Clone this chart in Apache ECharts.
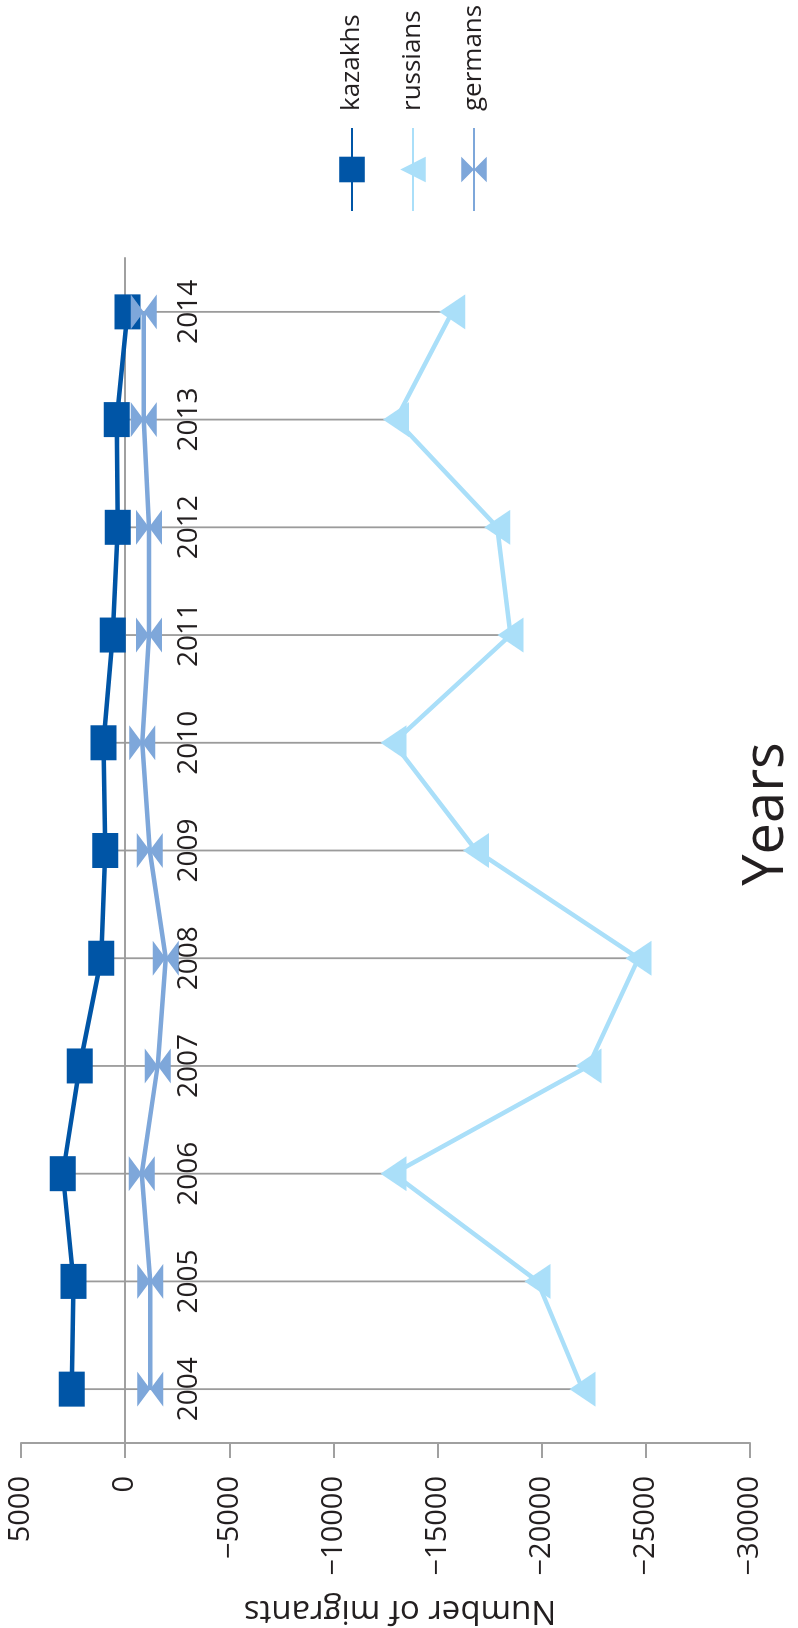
<!DOCTYPE html>
<html>
<head>
<meta charset="utf-8">
<script src="https://cdn.jsdelivr.net/npm/echarts@6/dist/echarts.min.js"></script>
<style>
html, body { margin: 0; padding: 0; width: 798px; height: 1628px; overflow: hidden; background: #fff; }
/* chart is drawn landscape, then turned a quarter to the left */
#chart { position: absolute; left: 0; top: 0; width: 1628px; height: 798px;
  transform-origin: 0 0; transform: translateY(1628px) rotate(-90deg); }
</style>
</head>
<body>
<div id="chart"></div>
<script>
var years = ['2004', '2005', '2006', '2007', '2008', '2009', '2010', '2011', '2012', '2013', '2014'];
var kazakhs = [2560, 2480, 2990, 2180, 1150, 950, 1040, 600, 350, 400, -110];
var russians = [-21960, -19800, -12880, -22250, -24650, -16850, -12880, -18500, -17870, -13000, -15700];
var germans = [-1200, -1200, -800, -1560, -1950, -1180, -820, -1140, -1150, -890, -890];
var valueMin = -30000, valueMax = 5000, valueStep = 5000;

var textColor = '#231f20',
    axisColor = '#a0a0a0',
    font = 'Open Sans';

var gridTop = 21, gridBottom = 48, chartH = 798;
var plotH = chartH - gridTop - gridBottom;
// category axis sits on the zero value line
var zeroOffset = -plotH * (0 - valueMin) / (valueMax - valueMin);

var hiLo = years.map(function (y, i) {
    return [i, Math.max(kazakhs[i], russians[i], germans[i]), Math.min(kazakhs[i], russians[i], germans[i])];
});

var chart = echarts.init(document.getElementById('chart'));

var option = {
    animation: false,
    backgroundColor: '#fff',
    textStyle: { fontFamily: font },
    grid: { left: 185, right: 258, top: gridTop, bottom: gridBottom, containLabel: false },
    legend: {
        data: ['kazakhs', 'russians', 'germans'],
        orient: 'vertical',
        left: 1416,
        top: 339,
        padding: 0,
        itemWidth: 83,
        itemHeight: 32,
        itemGap: 35,
        textStyle: { fontSize: 26, color: textColor, fontFamily: font, padding: [0, 0, 0, 12] }
    },
    xAxis: {
        type: 'category',
        data: years,
        boundaryGap: true,
        offset: zeroOffset,
        axisLine: { onZero: false, lineStyle: { color: axisColor, width: 2 } },
        axisTick: { show: false },
        splitLine: { show: false },
        axisLabel: { margin: 50, fontSize: 28, color: textColor, fontFamily: font }
    },
    yAxis: {
        type: 'value',
        min: valueMin,
        max: valueMax,
        interval: valueStep,
        axisLine: { show: true, lineStyle: { color: axisColor, width: 2 } },
        axisTick: { show: true, length: 15, lineStyle: { color: axisColor, width: 2 } },
        splitLine: { show: false },
        axisLabel: {
            margin: 33, fontSize: 29, color: textColor, fontFamily: font,
            formatter: function (v) { return String(v).replace('-', '\u2212'); }
        }
    },
    graphic: [
        {
            type: 'text', x: 814, y: 767,
            style: { text: 'Years', fontSize: 56, fontFamily: font, fill: textColor, align: 'center', verticalAlign: 'middle' }
        },
        {
            type: 'text', x: 18, y: 400, rotation: Math.PI / 2,
            style: { text: 'Number of migrants', fontSize: 33, fontFamily: font, fill: textColor, align: 'center', verticalAlign: 'middle' }
        }
    ],
    series: [
        {
            // high-low lines
            type: 'custom',
            name: 'hilo',
            z: 1,
            silent: true,
            data: hiLo,
            encode: { x: 0, y: [1, 2] },
            renderItem: function (params, api) {
                var a = api.coord([api.value(0), api.value(1)]);
                var b = api.coord([api.value(0), api.value(2)]);
                return {
                    type: 'line',
                    shape: { x1: a[0], y1: a[1], x2: b[0], y2: b[1] },
                    style: { stroke: '#9b9b9b', lineWidth: 1.8 }
                };
            }
        },
        {
            name: 'kazakhs',
            type: 'line',
            data: kazakhs,
            symbol: 'rect',
            symbolSize: [35, 26],
            color: '#0055a6',
            lineStyle: { width: 4.5, color: '#0055a6' },
            itemStyle: { color: '#0055a6', borderWidth: 0 }
        },
        {
            name: 'russians',
            type: 'line',
            data: russians,
            symbol: 'triangle',
            symbolSize: [35, 26],
            color: '#aadff9',
            lineStyle: { width: 4.5, color: '#aadff9' },
            itemStyle: { color: '#aadff9', borderWidth: 0 }
        },
        {
            name: 'germans',
            type: 'line',
            data: germans,
            symbol: 'path://M0,0 L20,0 L10,10 L20,20 L0,20 L10,10 Z',
            symbolSize: [35, 26],
            color: '#7ea7da',
            lineStyle: { width: 4.5, color: '#7ea7da' },
            itemStyle: { color: '#7ea7da', borderWidth: 0 }
        }
    ]
};

chart.setOption(option);
</script>
</body>
</html>
